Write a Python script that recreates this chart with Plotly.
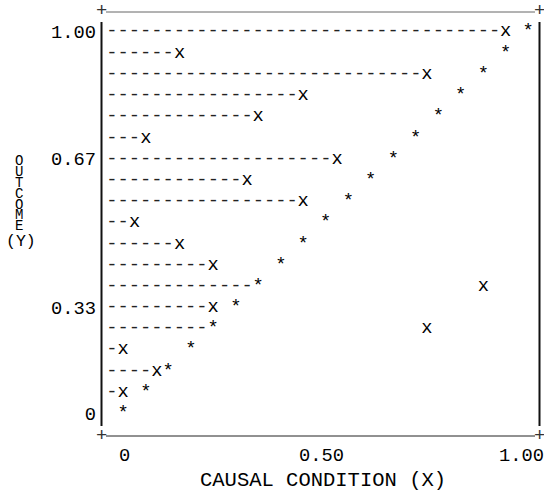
import plotly.graph_objects as go

# ---------------- data ----------------
# outcome (Y) value of each printed row, top to bottom
outcome_y = [1.000, 0.944, 0.889, 0.833, 0.778, 0.722, 0.667, 0.611, 0.556, 0.500,
             0.444, 0.389, 0.333, 0.278, 0.222, 0.167, 0.111, 0.056, 0.000]
# causal condition (X) of the case plotted with "x" on that row (None = no case)
case_x = [0.944, 0.139, 0.750, 0.444, 0.333, 0.056, 0.528, 0.306, 0.444, 0.028,
          0.139, 0.222, 0.889, 0.222, 0.750, 0.000, 0.083, 0.000, None]
# diagonal reference points "*" (X position on each row)
diag_x = [1.000, 0.944, 0.889, 0.833, 0.778, 0.722, 0.667, 0.611, 0.556, 0.500,
          0.444, 0.389, 0.333, 0.278, 0.222, 0.167, 0.111, 0.056, 0.000]

x_tick_vals = [0.0, 0.5, 1.0]
x_tick_text = ["0", "0.50", "1.00"]
y_tick_vals = [1.0, 0.667, 0.278, 0.0]
y_tick_text = ["1.00", "0.67", "0.33", "0"]

x_title = "CAUSAL CONDITION (X)"
y_title = "OUTCOME (Y)"

# ---------------- layout constants (pixels) ----------------
W, H = 544, 495
ML, MR, MT, MB = 101, 4, 11, 60
CW = 11.25            # character width
COLS = 36             # character columns per unit of X
X0PX = 123.25         # pixel of X = 0
PXX = CW * COLS       # pixels per unit X
Y1PY = 31.8           # pixel of Y = 1
PXY = 381.6           # pixels per unit Y
ROWH = PXY / 18       # row height
FONT = "Liberation Mono"
FS = CW / 0.6
PW, PH = W - ML - MR, H - MT - MB


def px2x(px):
    return (px - X0PX) / PXX


def py2y(py):
    return 1 - (py - Y1PY) / PXY


def px2p(px):       # pixel -> paper x
    return (px - ML) / PW


def py2p(py):       # pixel -> paper y
    return (H - MB - py) / PH


def col(v):
    return round(v * COLS) + 1


fig = go.Figure()

# dashes running from the axis to the case (or to the diagonal if that comes first)
dash_x, dash_y, dash_t = [], [], []
for y, cx, sx in zip(outcome_y, case_x, diag_x):
    if cx is None:
        continue
    n = min(col(cx), col(sx))
    if n <= 0:
        continue
    dash_x.append(((n - 1) / 2 - 1) / COLS)
    dash_y.append(y)
    dash_t.append("-" * n)

fig.add_trace(go.Scatter(x=dash_x, y=dash_y, text=dash_t, mode="text",
                         textposition="middle center", cliponaxis=False,
                         textfont=dict(family=FONT, size=FS, color="#222"),
                         hoverinfo="skip", showlegend=False))

# diagonal "*" points
fig.add_trace(go.Scatter(x=diag_x, y=outcome_y, text=["*"] * len(diag_x), mode="text",
                         textposition="middle center", cliponaxis=False,
                         textfont=dict(family=FONT, size=FS, color="#000"),
                         showlegend=False, name="diagonal"))

# cases "x"
cx_list = [c for c in case_x if c is not None]
cy_list = [y for y, c in zip(outcome_y, case_x) if c is not None]
fig.add_trace(go.Scatter(x=cx_list, y=cy_list, text=["x"] * len(cx_list), mode="text",
                         textposition="middle center", cliponaxis=False,
                         textfont=dict(family=FONT, size=FS, color="#000"),
                         showlegend=False, name="cases"))

annotations = []
# x tick labels (character-grid aligned: tick sits under the middle character)
x_lab_py = Y1PY + 20 * ROWH
for v, t in zip(x_tick_vals, x_tick_text):
    k = len(t) // 2
    shift = -(k + 0.5) * CW
    right = X0PX + v * PXX + shift + len(t) * CW
    if right > W - 1.5:
        shift -= right - (W - 1.5)
    annotations.append(dict(x=v, y=py2p(x_lab_py), xref="x", yref="paper", text=t,
                            showarrow=False, xanchor="left", yanchor="middle",
                            xshift=shift, borderpad=0,
                            font=dict(family=FONT, size=FS, color="#000")))

# frame corners "+"
for px, py in [(101, 11), (539.5, 11), (101, 435.5), (539.5, 435.5)]:
    annotations.append(dict(x=px2p(px), y=py2p(py), xref="paper", yref="paper", text="+",
                            showarrow=False, xanchor="center", yanchor="middle",
                            borderpad=0, font=dict(family=FONT, size=FS, color="#333")))

# x title
annotations.append(dict(x=px2p(323), y=py2p(481), xref="paper", yref="paper", text=x_title,
                        showarrow=False, xanchor="center", yanchor="middle", borderpad=0,
                        font=dict(family=FONT, size=20.5, color="#000")))

# y title: stacked letters
word, rest = y_title.split(" ")
for i, ch in enumerate(word):
    annotations.append(dict(x=px2p(19), y=py2p(161 + i * 10.9), xref="paper", yref="paper",
                            text=ch, showarrow=False, xanchor="center", yanchor="middle",
                            borderpad=0, font=dict(family=FONT, size=14, color="#000")))
annotations.append(dict(x=px2p(21), y=py2p(241), xref="paper", yref="paper", text=rest,
                        showarrow=False, xanchor="center", yanchor="middle", borderpad=0,
                        font=dict(family=FONT, size=16.5, color="#000")))

shapes = [
    # left and right vertical rules
    dict(type="line", xref="paper", yref="paper", x0=px2p(101.5), x1=px2p(101.5),
         y0=py2p(22), y1=py2p(426), line=dict(color="#111", width=2)),
    dict(type="line", xref="paper", yref="paper", x0=px2p(539.5), x1=px2p(539.5),
         y0=py2p(22), y1=py2p(426), line=dict(color="#111", width=2)),
    # top and bottom rules
    dict(type="line", xref="paper", yref="paper", x0=px2p(106), x1=px2p(535),
         y0=py2p(12), y1=py2p(12), line=dict(color="#666", width=1)),
    dict(type="line", xref="paper", yref="paper", x0=px2p(106), x1=px2p(535),
         y0=py2p(436), y1=py2p(436), line=dict(color="#222", width=1)),
]

fig.update_layout(
    width=W, height=H, autosize=False,
    margin=dict(l=ML, r=MR, t=MT, b=MB, pad=0),
    paper_bgcolor="white", plot_bgcolor="white",
    showlegend=False,
    annotations=annotations, shapes=shapes,
    xaxis=dict(range=[px2x(ML), px2x(W - MR)], showgrid=False, zeroline=False,
               showline=False, showticklabels=False, ticks="", fixedrange=True),
    yaxis=dict(range=[py2y(H - MB), py2y(MT)], showgrid=False, zeroline=False,
               showline=False, ticks="", tickmode="array",
               tickvals=y_tick_vals, ticktext=y_tick_text,
               tickfont=dict(family=FONT, size=FS, color="#000"),
               ticklabelstandoff=4, fixedrange=True),
)

fig.write_html("out.html", config={"displayModeBar": False},
               post_script="document.body.style.margin='0';document.body.style.overflow='hidden';")
